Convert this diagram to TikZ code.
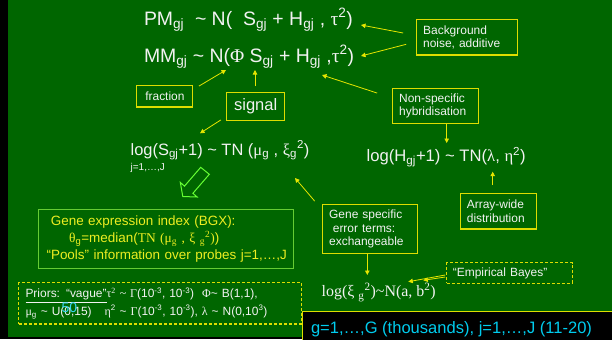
\documentclass[tikz,border=0pt]{standalone}
\usepackage{fontspec}
\setmainfont{Liberation Sans}
\newfontfamily\timesfam{Liberation Serif}
\usetikzlibrary{arrows.meta,calc}

\definecolor{slide}{HTML}{006600}
\definecolor{ybox}{HTML}{DDDD00}
\definecolor{yarrow}{HTML}{E6E600}
\definecolor{ytext}{HTML}{EEEE22}
\definecolor{gborder}{HTML}{66CC33}
\definecolor{garrow}{HTML}{66FF33}
\definecolor{txt}{HTML}{F2F2F2}
\definecolor{cyantext}{HTML}{00CCEE}

% Greek letters in a serif face, and a printable tilde
\newcommand\gk[1]{{\timesfam #1}}
\newcommand\tld{\textasciitilde}
\newcommand\fs[2]{\fontsize{#1}{#2}\selectfont}

\tikzset{
  every node/.style={inner sep=0pt, outer sep=0pt, text=txt},
  box/.style={draw=ybox, line width=1.1bp, align=left, font=\fs{12}{13.5}},
  dbox/.style={box, dash pattern=on 3bp off 2bp},
  formula/.style={anchor=base west, font=\fs{19.5}{21}},
  arr/.style={draw=yarrow, line width=0.8bp, -{Triangle[length=4.5bp,width=4.5bp]}},
}

\begin{document}
\begin{tikzpicture}[x=1bp, y=-1bp]
\useasboundingbox (0,0) rectangle (612,339);
\fill[black] (0,0) rectangle (612,339);
\fill[slide] (8,0) rectangle (612,337);

% model equations
\node[formula] (pm) at (144,25)
  {PM\textsubscript{gj}\ \ \tld{} N(\ \ S\textsubscript{gj} + H\textsubscript{gj} , \gk{τ}\textsuperscript{2})};
\node[formula] (mm) at (144,62)
  {MM\textsubscript{gj} \tld{} N(\gk{Φ} S\textsubscript{gj} + H\textsubscript{gj} ,\gk{τ}\textsuperscript{2})};
\node[formula, font=\fs{16.5}{18}] (logs) at (130.7,155)
  {log(S\textsubscript{gj}+1) \tld{} TN (\gk{μ}\textsubscript{g} , \gk{ξ}\textsubscript{g}\textsuperscript{2})};
\node[anchor=base west, font=\fs{10}{11}] (jrange) at (130.7,170) {j=1,…,J};
\node[formula, font=\fs{16.7}{18}] (logh) at (366.7,161.7)
  {log(H\textsubscript{gj}+1) \tld{} TN(\gk{λ}, \gk{η}\textsuperscript{2})};
\node[formula, font=\fs{16}{18}\timesfam] (logxi) at (321.7,296.7)
  {log(ξ \textsubscript{g}\textsuperscript{2})\tld{}N(a, b\textsuperscript{2})};

% annotation boxes
\node[box, minimum width=102, minimum height=35.7, text width=88, inner xsep=7] (bg) at (467,37.2)
  {Background\\noise, additive};
\node[box, minimum width=56.3, minimum height=21.3, align=center] (frac) at (164.9,96.4) {fraction};
\node[box, minimum width=58, minimum height=28, align=center, font=\fs{16.6}{18}] (sig) at (255.7,106.7) {signal};
\node[box, minimum width=87, minimum height=36, text width=73, inner xsep=7] (nonspec) at (435.5,106)
  {Non-specific\\hybridisation};
\node[box, minimum width=76.7, minimum height=35.7, text width=63.3, inner xsep=6.7] (array) at (498.4,211.2)
  {Array-wide\\distribution};
\node[box, minimum width=95, minimum height=50, text width=81.6, inner xsep=6.7] (genesp) at (369.8,229)
  {Gene specific\\\hspace*{3.7bp}error terms:\\exchangeable};
\node[dbox, minimum width=125.6, minimum height=20.6, text width=113.6, inner xsep=6] (emp) at (509.5,273)
  {“Empirical Bayes”};

% gene expression index summary
\node[draw=gborder, line width=1bp, minimum width=255.7, minimum height=59.2, text width=252,
      inner xsep=1.85, align=left, text=ytext, font=\fs{13.5}{16.7}] (bgx) at (166.2,238.9)
  {\hspace*{10.2bp}Gene expression index (BGX):\\
   \hspace*{28.5bp}\gk{θ}\textsubscript{g}=median({\timesfam TN (μ\textsubscript{g} , ξ \textsubscript{g}\textsuperscript{2})})\\
   \hspace*{5.9bp}“Pools” information over probes j=1,…,J};

% priors
\node[dbox, minimum width=283.4, minimum height=41.3, text width=276, inner xsep=3.7,
      font=\fs{12}{17.4}] (priors) at (160,303.4)
  {\hspace*{3bp}\makebox[81bp][l]{\underline{Priors: “vague”}}\gk{τ\textsuperscript{2} \tld{} Γ}(10\textsuperscript{-3}, 10\textsuperscript{-3})\ \ \gk{Φ}\tld{} B(1,1),\\
   \hspace*{3bp}\makebox[79bp][l]{\gk{μ}\textsubscript{g} \tld{} U(0,15)}\gk{η}\textsuperscript{2} \tld{} \gk{Γ}(10\textsuperscript{-3}, 10\textsuperscript{-3}), \gk{λ} \tld{} N(0,10\textsuperscript{3})};
\node[anchor=base west, text=cyantext!80!white, font=\fs{14}{16}] (fifty) at (61.7,312) {50};

% index ranges
\node[fill=black, draw=ybox, line width=1bp, anchor=north west, minimum width=320, minimum height=40] (range) at (302.7,311) {};
\node[anchor=base west, text=cyantext, font=\fs{16.6}{18}] (rangetext) at (311,333)
  {g=1,…,G (thousands), j=1,…,J (11-20)};

% arrowhead targets
\coordinate (pmEnd) at (361,25);
\coordinate (mmEnd) at (361,56);
\coordinate (mmPhi) at (226,70);
\coordinate (mmS) at (255,70);
\coordinate (mmH) at (322,75);
\coordinate (logsIn) at (200,133.3);
\coordinate (logsXi) at (295,178);
\coordinate (loghIn) at (446.7,143);
\coordinate (loghEta) at (492.7,171.7);
\coordinate (logxiIn) at (367.3,275);
\coordinate (logxiA) at (408.3,281.7);
\coordinate (logxiB) at (423.3,280.3);

% connectors
\draw[arr] ($(bg.west)+(-13,-4.2)$) -- (pmEnd);
\draw[arr] ($(bg.west)+(-10,7.1)$) -- (mmEnd);
\draw[arr] ($(frac.north east)+(6,0.3)$) -- (mmPhi);
\draw[arr] ($(sig.north)+(-0.7,-6.7)$) -- (mmS);
\draw[arr] ($(nonspec.north west)+(-15,5)$) -- (mmH);
\draw[arr] ($(sig.south west)+(-6,-0.7)$) -- (logsIn);
\draw[arr] (nonspec.south -| loghIn) -- (loghIn);
\draw[arr] ($(array.north -| loghEta)+(0,-8.3)$) -- (loghEta);
\draw[arr] ($(genesp.north west)+(-7.8,-3)$) -- (logsXi);
\draw[arr] (genesp.south -| logxiIn) -- (logxiIn);
\draw[arr] ($(emp.west)+(-1.7,2)$) -- (logxiA);
\draw[arr] ($(emp.west)+(-1.7,4)$) -- (logxiB);

% hollow arrow from the signal model down to the expression index
\draw[garrow, line width=1bp, line join=miter]
  (200.7,167.3) -- (184.5,186.1) -- (180.3,182.4) -- (182.8,196.5)
  -- (197.1,197) -- (192.9,193.3) -- (209.3,174.3) -- cycle;
\end{tikzpicture}
\end{document}
